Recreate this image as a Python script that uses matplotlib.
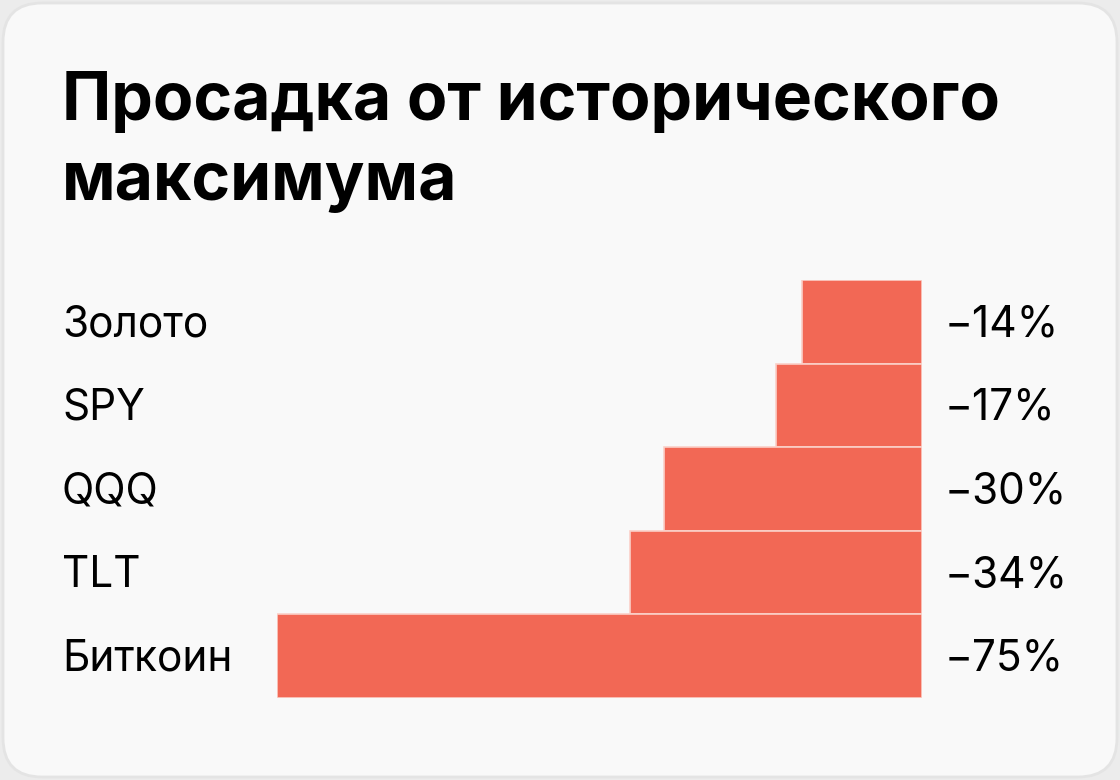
import matplotlib.pyplot as plt
from matplotlib.patches import FancyBboxPatch
from matplotlib.transforms import blended_transform_factory, offset_copy

# Data
assets = ["Золото", "SPY", "QQQ", "TLT", "Биткоин"]
drawdown = [-14, -17, -30, -34, -75]
value_labels = ["−14%", "−17%", "−30%", "−34%", "−75%"]

W, H = 1120, 780
fig = plt.figure(figsize=(W / 100, H / 100), dpi=100)
fig.patch.set_facecolor("#ececec")

# Card background (behind the axes)
card = FancyBboxPatch((3 / W, 3 / H), 1114 / W, 774 / H,
                      boxstyle="round,pad=0,rounding_size=0.035",
                      transform=fig.transFigure, facecolor="#f9f9f9",
                      edgecolor="#e4e4e4", linewidth=2, mutation_aspect=W / H,
                      zorder=-10)
fig.patches.append(card)

# Title (two lines)
fig.text(62 / W, 1 - 120 / H, "Просадка от исторического",
         fontsize=47.5, fontweight="bold", family="Inter", color="black",
         ha="left", va="baseline")
fig.text(62 / W, 1 - 200 / H, "максимума",
         fontsize=47.5, fontweight="bold", family="Inter", color="black",
         ha="left", va="baseline")

# Bars
ax = fig.add_axes([277 / W, 1 - 698 / H, 645 / W, 418 / H])
ax.set_facecolor("none")
y = range(len(assets))
ax.barh(y, [-d for d in drawdown], left=drawdown, height=1.0,
        color="#f26855", edgecolor="#fbd0c8", linewidth=1.2)
ax.set_xlim(-75, 0)
ax.set_ylim(len(assets) - 0.5, -0.5)
ax.axis("off")

trans = blended_transform_factory(fig.transFigure, ax.transData)
trans = offset_copy(trans, fig=fig, y=-3, units="dots")
for i, (name, lab) in enumerate(zip(assets, value_labels)):
    ax.text(62 / W, i, name, transform=trans, fontsize=30.5, family="Inter",
            ha="left", va="center", color="black")
    ax.text(945 / W, i, lab, transform=trans, fontsize=30.5, family="Inter",
            ha="left", va="center", color="black")

fig.savefig("out.png", dpi=100, facecolor=fig.get_facecolor())
